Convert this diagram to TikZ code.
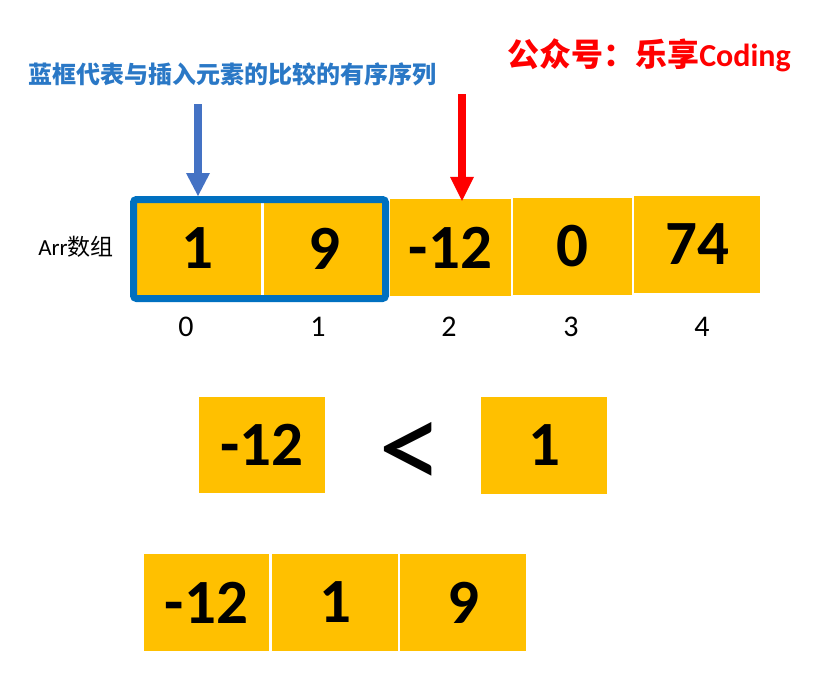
\documentclass[tikz,border=0pt]{standalone}
\usepackage{fontspec}
\setmainfont{Carlito}
\newfontfamily\cjk{Noto Sans CJK SC}
\usepackage{xcolor}
\usetikzlibrary{arrows.meta, positioning}
\definecolor{ambar}{HTML}{FFC000}
\definecolor{marco}{HTML}{0070C0}
\definecolor{azulflecha}{HTML}{4472C4}
\definecolor{azultitulo}{HTML}{2A78C6}
\definecolor{rojo}{HTML}{FF0000}
\tikzset{
  every picture/.style={x=1pt, y=-1pt},
  cell/.style={fill=ambar, inner sep=0pt, minimum height=97pt,
               font=\fontsize{63}{63}\selectfont\bfseries},
  idx/.style={inner sep=0pt, font=\fontsize{30}{30}\selectfont},
  frame/.style={draw=marco, line width=7pt, rounded corners=3pt, inner sep=0pt,
                minimum width=252pt, minimum height=99pt},
  flechaazul/.style={-{Triangle[width=24pt, length=23pt, line width=0pt]}, line width=8pt, azulflecha},
  flecharoja/.style={-{Triangle[width=24pt, length=24pt, line width=0pt]}, line width=8pt, rojo},
}

\begin{document}
\begin{tikzpicture}
  \useasboundingbox (0,0) rectangle (832,678);
  % titles
  \node[text=azultitulo, font=\fontsize{24}{24}\selectfont\bfseries\cjk] (titulo) at (232,74) {蓝框代表与插入元素的比较的有序序列};
  \node[text=rojo, font=\fontsize{32}{32}\selectfont\bfseries] (marca) at (649,55) {{\cjk 公众号：乐享}Coding};
  % array
  \node[font=\fontsize{23}{23}\selectfont] (arr) at (76,247) {Arr{\cjk 数组}};
  \node[cell, minimum width=127pt] (c0) at (197.5,248.5) {1};
  \node[cell, minimum width=121pt] (c1) at (324,248.5) {9};
  \node[cell, minimum width=121pt] (c2) at (450.5,247.5) {-12};
  \node[cell, minimum width=119pt] (c3) at (572.5,246.5) {0};
  \node[cell, minimum width=126pt] (c4) at (697,244.5) {74};
  \node[frame] (ordenado) at (259.5,249) {};
  \node[idx] (i0) at (186,327) {0};
  \node[idx] (i1) at (318,327) {1};
  \node[idx] (i2) at (449,327) {2};
  \node[idx] (i3) at (571,327) {3};
  \node[idx] (i4) at (702,327) {4};
  % pointers
  \coordinate (azularriba) at (198,104);
  \coordinate (rojoarriba) at (462,94);
  \draw[flechaazul] (azularriba) -- (azularriba |- ordenado.north);
  \draw[flecharoja] (rojoarriba) -- ([yshift=-2pt]rojoarriba |- c2.north);
  % comparison
  \node[cell, minimum width=126pt, minimum height=96pt] (m0) at (262,445) {-12};
  \node[font=\fontsize{130}{130}\selectfont, inner sep=0pt] (menor) at (410.5,456) {<};
  \node[cell, minimum width=126pt] (m1) at (544,445.5) {1};
  % result
  \node[cell, minimum width=125pt] (r0) at (206.5,602.5) {-12};
  \node[cell, minimum width=126pt] (r1) at (335,602.5) {1};
  \node[cell, minimum width=126pt] (r2) at (463,602.5) {9};
\end{tikzpicture}
\end{document}
